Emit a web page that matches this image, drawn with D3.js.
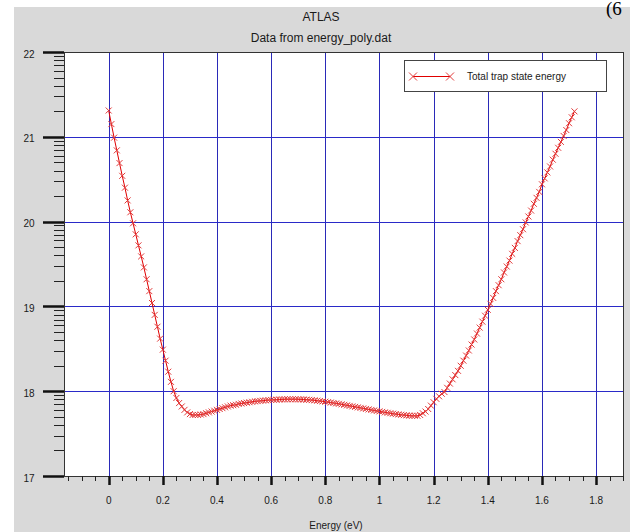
<!DOCTYPE html>
<meta charset="utf-8">
<head>
<script src="https://d3js.org/d3.v7.min.js"></script>
<style>
  body { margin: 0; background: #fff; }
  text { font-family: "Liberation Sans", Arial, sans-serif; fill: #1a1a1a; }
</style>
</head>
<body>
<svg></svg>
<script>

// energy axis (eV) and trap state energy
var energy = [
  0.00,0.01,0.02,0.03,0.04,0.05,0.06,0.07,0.08,0.09,
  0.10,0.11,0.12,0.13,0.14,0.15,0.16,0.17,0.18,0.19,
  0.20,0.21,0.22,0.23,0.24,0.25,0.26,0.27,0.28,0.29,
  0.30,0.31,0.32,0.33,0.34,0.35,0.36,0.37,0.38,0.39,
  0.40,0.41,0.42,0.43,0.44,0.45,0.46,0.47,0.48,0.49,
  0.50,0.51,0.52,0.53,0.54,0.55,0.56,0.57,0.58,0.59,
  0.60,0.61,0.62,0.63,0.64,0.65,0.66,0.67,0.68,0.69,
  0.70,0.71,0.72,0.73,0.74,0.75,0.76,0.77,0.78,0.79,
  0.80,0.81,0.82,0.83,0.84,0.85,0.86,0.87,0.88,0.89,
  0.90,0.91,0.92,0.93,0.94,0.95,0.96,0.97,0.98,0.99,
  1.00,1.01,1.02,1.03,1.04,1.05,1.06,1.07,1.08,1.09,
  1.10,1.11,1.12,1.13,1.14,1.15,1.16,1.17,1.18,1.19,
  1.20,1.21,1.22,1.23,1.24,1.25,1.26,1.27,1.28,1.29,
  1.30,1.31,1.32,1.33,1.34,1.35,1.36,1.37,1.38,1.39,
  1.40,1.41,1.42,1.43,1.44,1.45,1.46,1.47,1.48,1.49,
  1.50,1.51,1.52,1.53,1.54,1.55,1.56,1.57,1.58,1.59,
  1.60,1.61,1.62,1.63,1.64,1.65,1.66,1.67,1.68,1.69,
  1.70,1.71,1.72
];
var trapEnergy = [
  21.31,21.15,20.99,20.84,20.69,20.54,20.40,20.25,20.11,19.98,
  19.85,19.72,19.59,19.46,19.32,19.18,19.04,18.90,18.76,18.62,
  18.49,18.36,18.23,18.11,18.00,17.92,17.86,17.82,17.78,17.75,
  17.73,17.72,17.72,17.72,17.725,17.73,17.74,17.75,17.76,17.77,
  17.78,17.79,17.80,17.81,17.82,17.83,17.835,17.84,17.85,17.855,
  17.86,17.865,17.87,17.875,17.88,17.883,17.886,17.889,17.892,17.895,
  17.897,17.899,17.90,17.902,17.903,17.904,17.905,17.905,17.905,17.905,
  17.904,17.903,17.902,17.90,17.898,17.895,17.892,17.888,17.884,17.88,
  17.876,17.871,17.866,17.861,17.856,17.851,17.845,17.839,17.833,17.827,
  17.821,17.815,17.809,17.803,17.797,17.791,17.785,17.779,17.773,17.767,
  17.762,17.756,17.750,17.745,17.740,17.735,17.730,17.726,17.722,17.718,
  17.715,17.712,17.71,17.71,17.71,17.72,17.74,17.76,17.79,17.83,
  17.87,17.91,17.94,17.97,17.99,18.04,18.09,18.14,18.19,18.24,
  18.30,18.36,18.42,18.48,18.55,18.61,18.68,18.75,18.82,18.89,
  18.96,19.03,19.10,19.18,19.25,19.32,19.40,19.47,19.54,19.62,
  19.69,19.77,19.84,19.91,19.99,20.06,20.13,20.21,20.28,20.35,
  20.44,20.51,20.58,20.65,20.73,20.80,20.87,20.94,21.01,21.08,
  21.16,21.23,21.30
];

var xTicks = [0, 0.2, 0.4, 0.6, 0.8, 1, 1.2, 1.4, 1.6, 1.8];
var yTicks = [17, 18, 19, 20, 21, 22];
var seriesName = "Total trap state energy";

var width = 630,
    height = 532,
    plotL = 64, plotR = 624, plotT = 52, plotB = 476;

var svg = d3.select("svg")
    .attr("width", width)
    .attr("height", height);

// grey canvas
svg.append("rect")
    .attr("x", 14).attr("y", 7)
    .attr("width", width - 14).attr("height", height - 7)
    .attr("fill", "#d9d9d9");

var x = d3.scaleLinear().domain([-0.165, 1.903]).range([plotL, plotR]);
var y = d3.scaleLinear().domain([17, 22]).range([plotB, plotT]);

// plot area
svg.append("rect")
    .attr("x", plotL).attr("y", plotT)
    .attr("width", plotR - plotL).attr("height", plotB - plotT)
    .attr("fill", "#fff");

// grid
svg.append("g").selectAll("line")
    .data(xTicks)
    .enter().append("line")
    .attr("x1", function(d) { return Math.round(x(d)) + 0.5; })
    .attr("x2", function(d) { return Math.round(x(d)) + 0.5; })
    .attr("y1", plotT).attr("y2", plotB)
    .attr("stroke", "#2a2ab8");

svg.append("g").selectAll("line")
    .data(yTicks.slice(1, -1))
    .enter().append("line")
    .attr("y1", function(d) { return Math.round(y(d)) + 0.5; })
    .attr("y2", function(d) { return Math.round(y(d)) + 0.5; })
    .attr("x1", plotL).attr("x2", plotR)
    .attr("stroke", "#2a2ac8");

// frame
svg.append("rect")
    .attr("x", plotL + 0.5).attr("y", plotT + 0.5)
    .attr("width", plotR - plotL - 1).attr("height", plotB - plotT)
    .attr("fill", "none")
    .attr("stroke", "#333");

// x ticks: minor every 0.05, major at labels
var xMinor = d3.range(-15, 191, 5).map(function(d) { return d / 100; });
svg.append("g").selectAll("line")
    .data(xMinor)
    .enter().append("line")
    .attr("x1", function(d) { return Math.round(x(d)) + 0.5; })
    .attr("x2", function(d) { return Math.round(x(d)) + 0.5; })
    .attr("y1", plotB).attr("y2", plotB + 5)
    .attr("stroke", "#222");

svg.append("g").selectAll("line")
    .data(xTicks)
    .enter().append("line")
    .attr("x1", function(d) { return Math.round(x(d)) + 0.5; })
    .attr("x2", function(d) { return Math.round(x(d)) + 0.5; })
    .attr("y1", plotB).attr("y2", plotB + 9)
    .attr("stroke", "#111")
    .attr("stroke-width", 2.5);

svg.append("g").selectAll("text")
    .data(xTicks)
    .enter().append("text")
    .attr("x", function(d) { return x(d); })
    .attr("y", 504)
    .attr("text-anchor", "middle")
    .style("font-size", "10px")
    .text(function(d) { return d; });

// y ticks: log-style minor ticks between integers
var yMinor = [];
yTicks.slice(0, -1).forEach(function(n) {
  for (var k = 2; k <= 9; k++) yMinor.push(n + Math.log10(k));
});
svg.append("g").selectAll("line")
    .data(yMinor)
    .enter().append("line")
    .attr("y1", function(d) { return Math.round(y(d)) + 0.5; })
    .attr("y2", function(d) { return Math.round(y(d)) + 0.5; })
    .attr("x1", plotL - 10).attr("x2", plotL)
    .attr("stroke", "#222");

svg.append("g").selectAll("line")
    .data(yTicks)
    .enter().append("line")
    .attr("y1", function(d) { return Math.round(y(d)) + 0.5; })
    .attr("y2", function(d) { return Math.round(y(d)) + 0.5; })
    .attr("x1", plotL - 21).attr("x2", plotL)
    .attr("stroke", "#111")
    .attr("stroke-width", 2.5);

svg.append("g").selectAll("text")
    .data(yTicks)
    .enter().append("text")
    .attr("x", 29)
    .attr("y", function(d) { return y(d) + 5.5; })
    .attr("text-anchor", "middle")
    .style("font-size", "10px")
    .text(function(d) { return d; });

// titles
svg.append("text").attr("x", 321).attr("y", 21)
    .attr("text-anchor", "middle").style("font-size", "12px").text("ATLAS");
svg.append("text").attr("x", 321).attr("y", 42)
    .attr("text-anchor", "middle").style("font-size", "12px").text("Data from energy_poly.dat");
svg.append("text").attr("x", 336).attr("y", 529)
    .attr("text-anchor", "middle").style("font-size", "10px").text("Energy (eV)");

// stray text from the page the chart was cut out of
svg.append("text").attr("x", 606).attr("y", 15)
    .style("font-family", "'Liberation Serif', serif")
    .style("font-size", "19px").style("fill", "#000").text("(6");

// series
var data = energy.map(function(e, i) { return [e, trapEnergy[i]]; });
var line = d3.line()
    .x(function(d) { return x(d[0]); })
    .y(function(d) { return y(d[1]); });

var cross = "M-3,-3L3,3M-3,3L3,-3";

svg.append("path")
    .datum(data)
    .attr("d", line)
    .attr("fill", "none")
    .attr("stroke", "#e00000")
    .attr("stroke-width", 1);

svg.append("g").selectAll("path")
    .data(data)
    .enter().append("path")
    .attr("transform", function(d) { return "translate(" + x(d[0]) + "," + y(d[1]) + ")"; })
    .attr("d", cross)
    .attr("fill", "none")
    .attr("stroke", "#e23a3a")
    .attr("stroke-width", 1);

// legend
var legend = svg.append("g");
legend.append("rect")
    .attr("x", 404.5).attr("y", 60.5)
    .attr("width", 202).attr("height", 31)
    .attr("fill", "#fff")
    .attr("stroke", "#444");
legend.append("line")
    .attr("x1", 413).attr("x2", 450)
    .attr("y1", 76.5).attr("y2", 76.5)
    .attr("stroke", "#e00000");
legend.selectAll("path.mk")
    .data([413, 450])
    .enter().append("path")
    .attr("transform", function(d) { return "translate(" + d + ",76.5)"; })
    .attr("d", "M-4,-4L4,4M-4,4L4,-4")
    .attr("fill", "none")
    .attr("stroke", "#e23a3a");
legend.append("text")
    .attr("x", 467).attr("y", 80)
    .style("font-size", "10px")
    .text(seriesName);

</script>
</body>
</html>
